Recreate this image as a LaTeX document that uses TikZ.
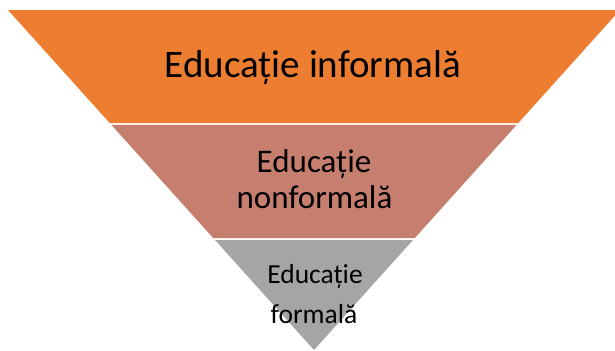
\documentclass[tikz,border=0pt]{standalone}
\usepackage{fontspec}
\setmainfont{Carlito}
\usepackage{xcolor}
\usetikzlibrary{calc,positioning}

\definecolor{informal}{HTML}{ED7D31}
\definecolor{nonformal}{HTML}{C67F6F}
\definecolor{formal}{HTML}{A5A5A5}

\tikzset{
    band/.style={draw=none},
    label/.style={anchor=base, inner sep=0pt, text=black}
}

\begin{document}
\begin{tikzpicture}[x=1bp, y=-1bp]
    \useasboundingbox (0,0) rectangle (615,350);
    \clip (0,0) rectangle (615,350);
    \coordinate (tl) at (8,10);
    \coordinate (tr) at (620,10);
    \coordinate (apex) at (314,350);

    % three bands of the inverted pyramid
    \fill[band, informal] (tl) -- (tr) -- ($(tr)!0.3324!(apex)$) -- ($(tl)!0.3324!(apex)$) -- cycle;
    \fill[band, nonformal] ($(tl)!0.3382!(apex)$) -- ($(tr)!0.3382!(apex)$) -- ($(tr)!0.6706!(apex)$) -- ($(tl)!0.6706!(apex)$) -- cycle;
    \fill[band, formal] ($(tl)!0.6765!(apex)$) -- ($(tr)!0.6765!(apex)$) -- (apex) -- cycle;

    \node (inf) [label, font=\fontsize{39bp}{40bp}\selectfont] at (313,77) {Educație informală};
    \node (nonf1) [label, font=\fontsize{33bp}{34bp}\selectfont] at (314,172) {Educație};
    \node (nonf2) [label, font=\fontsize{33bp}{34bp}\selectfont] at (314.5,208) {nonformală};
    \node (form1) [label, font=\fontsize{27.5bp}{28bp}\selectfont] at (315,283) {Educație};
    \node (form2) [label, font=\fontsize{27.5bp}{28bp}\selectfont] at (314,323) {formală};
\end{tikzpicture}
\end{document}
